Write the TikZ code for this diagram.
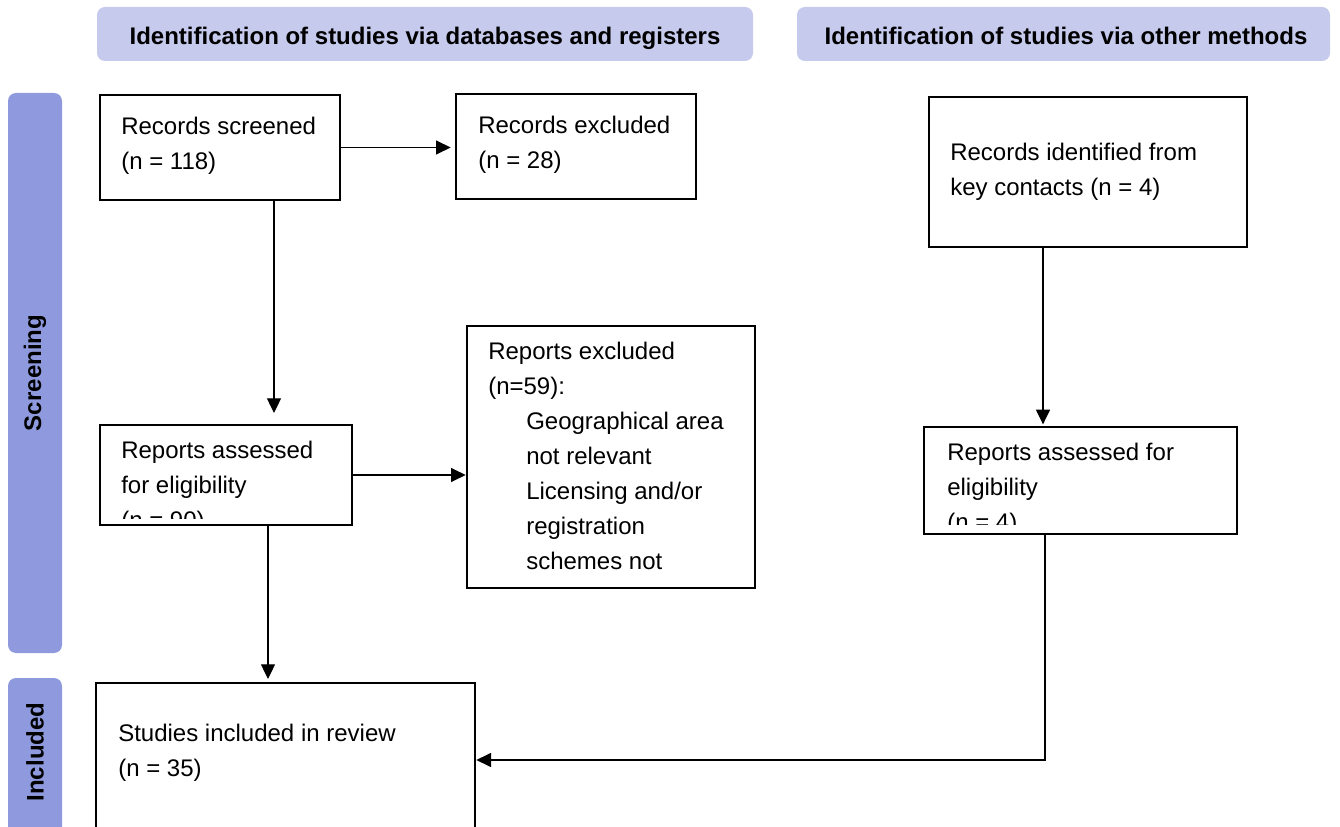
\documentclass[tikz,border=0pt]{standalone}
\usepackage{fontspec}
\setmainfont{Liberation Sans}
\usepackage{xcolor}
\usetikzlibrary{positioning, calc, arrows.meta, fit}

\definecolor{headblue}{RGB}{198,202,236}
\definecolor{barblue}{RGB}{143,154,222}

\tikzset{
  box/.style={draw, line width=2pt, inner sep=0pt},
  txt/.style={anchor=north west, inner sep=0pt, align=left,
    font=\fontsize{18}{26.25}\selectfont},
  head/.style={fill=headblue, rounded corners=6pt, inner sep=0pt},
  phase/.style={fill=barblue, rounded corners=6pt, inner sep=0pt},
  label/.style={font=\fontsize{18}{22}\selectfont\bfseries},
  link/.style={line width=0.9pt, -{Triangle[length=11pt,width=10.5pt]}},
}

\begin{document}
\begin{tikzpicture}[x=0.75pt, y=-0.75pt]
  \useasboundingbox (0,0) rectangle (1340,827);
  \clip (0,0) rectangle (1340,827);

  % headers and phase bars
  \node[head, fit={(97,7) (753,61)}] (dbhead) {};
  \node[label, anchor=base] at (425,45) {Identification of studies via databases and registers};
  \node[head, fit={(797,7) (1330,61)}] (othead) {};
  \node[label, anchor=base] at (1066,45) {Identification of studies via other methods};
  \node[phase, fit={(8,93) (62,653)}] (screenbar) {};
  \node[label, rotate=90] at (screenbar) {Screening};
  \node[phase, fit={(8,678) (62,860)}] (inclbar) {};
  \node[label, rotate=90] at (8+27,752) {Included};

  % boxes, databases side
  \node[box, fit={(100,95) (340,200)}] (screened) {};
  \node[txt] (screenedtxt) at (121,116.5) {Records screened\\(n = 118)};
  \node[box, fit={(456,94) (696,199)}] (excluded) {};
  \node[txt] (excludedtxt) at (478,115.5) {Records excluded\\(n = 28)};
  \node[box, fit={(100,425) (352,525)}] (assessed) {};
  \begin{scope}
    \clip (100,425) rectangle (352,518);
    \node[txt] (assessedtxt) at (121,440.5) {Reports assessed\\for eligibility\\(n = 90)};
  \end{scope}
  \node[box, fit={(467,326) (755,588)}] (repexcl) {};
  \node[txt] (repexcltxt) at (488,341.5) {Reports excluded\\(n=59):\\
    \hspace*{28.5pt}Geographical area\\\hspace*{28.5pt}not relevant\\
    \hspace*{28.5pt}Licensing and/or\\\hspace*{28.5pt}registration\\
    \hspace*{28.5pt}schemes not};
  \node[box, fit={(96,683) (475,837)}] (studies) {};
  \node[txt] (studiestxt) at (118,723.5) {Studies included in review\\(n = 35)};

  % boxes, other methods
  \node[box, fit={(929,97) (1247,247)}] (keyc) {};
  \node[txt] (keyctxt) at (950,142.5) {Records identified from\\key contacts (n = 4)};
  \node[box, fit={(924,427) (1237,534)}] (rassess) {};
  \begin{scope}
    \clip (924,427) rectangle (1237,524);
    \node[txt] (rassesstxt) at (947,442.5) {Reports assessed for\\eligibility\\(n = 4)};
  \end{scope}

  % connectors
  \coordinate (colA) at (274,0);
  \coordinate (colB) at (268,0);
  \coordinate (colC) at (1043,0);
  \coordinate (colD) at (1045,0);
  \draw[link, shorten >=3pt] (screened.east) -- (screened.east -| excluded.west);
  \draw[link, shorten >=8pt] (screened.south -| colA) -- (assessed.north -| colA);
  \draw[link] (assessed.east) -- (assessed.east -| repexcl.west);
  \draw[link, shorten >=2pt] (assessed.south -| colB) -- (studies.north -| colB);
  \draw[link, shorten >=1pt] (keyc.south -| colC) -- (rassess.north -| colC);
  \draw[link] (rassess.south -| colD) |- (studies.east);
\end{tikzpicture}
\end{document}
